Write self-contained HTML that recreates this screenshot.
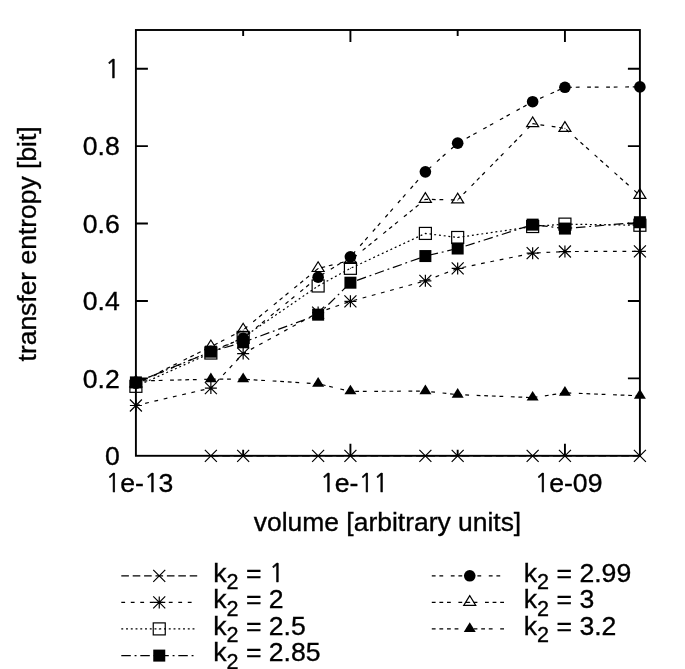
<!DOCTYPE html>
<html lang="en"><head><meta charset="utf-8"><title>transfer entropy vs volume</title>
<style>
html,body{margin:0;padding:0;background:#fff}
body{width:685px;height:669px;overflow:hidden}
svg{display:block}
.fl{fill:#000;stroke:none}
</style></head><body>
<svg width="685" height="669" viewBox="0 0 685 669">
<rect width="685" height="669" fill="#fff"/>
<g fill="none" stroke="#000" stroke-width="1.2">
<polyline points="210.87,455.8 243.16,455.8 318.13,455.8 350.42,455.8 425.38,455.8 457.67,455.8 532.64,455.8 564.93,455.8 639.9,455.8" stroke-dasharray="7.6 3.8"/>
<g><path d="M204.87 449.8L216.87 461.8M204.87 461.8L216.87 449.8"/><path d="M237.16 449.8L249.16 461.8M237.16 461.8L249.16 449.8"/><path d="M312.13 449.8L324.13 461.8M312.13 461.8L324.13 449.8"/><path d="M344.42 449.8L356.42 461.8M344.42 461.8L356.42 449.8"/><path d="M419.38 449.8L431.38 461.8M419.38 461.8L431.38 449.8"/><path d="M451.67 449.8L463.67 461.8M451.67 461.8L463.67 449.8"/><path d="M526.64 449.8L538.64 461.8M526.64 461.8L538.64 449.8"/><path d="M558.93 449.8L570.93 461.8M558.93 461.8L570.93 449.8"/><path d="M633.9 449.8L645.9 461.8M633.9 461.8L645.9 449.8"/></g>
<polyline points="135.9,405.48 210.87,388.06 243.16,353.61 318.13,312.58 350.42,301.35 425.38,280.83 457.67,268.45 532.64,253.16 564.93,251.53 639.9,251.3" stroke-dasharray="3.8 5.7"/>
<g><path d="M129.9 399.48L141.9 411.48M129.9 411.48L141.9 399.48M129.9 405.48H141.9M135.9 399.48V411.48"/><path d="M204.87 382.06L216.87 394.06M204.87 394.06L216.87 382.06M204.87 388.06H216.87M210.87 382.06V394.06"/><path d="M237.16 347.61L249.16 359.61M237.16 359.61L249.16 347.61M237.16 353.61H249.16M243.16 347.61V359.61"/><path d="M312.13 306.58L324.13 318.58M312.13 318.58L324.13 306.58M312.13 312.58H324.13M318.13 306.58V318.58"/><path d="M344.42 295.35L356.42 307.35M344.42 307.35L356.42 295.35M344.42 301.35H356.42M350.42 295.35V307.35"/><path d="M419.38 274.83L431.38 286.83M419.38 286.83L431.38 274.83M419.38 280.83H431.38M425.38 274.83V286.83"/><path d="M451.67 262.45L463.67 274.45M451.67 274.45L463.67 262.45M451.67 268.45H463.67M457.67 262.45V274.45"/><path d="M526.64 247.16L538.64 259.16M526.64 259.16L538.64 247.16M526.64 253.16H538.64M532.64 247.16V259.16"/><path d="M558.93 245.53L570.93 257.53M558.93 257.53L570.93 245.53M558.93 251.53H570.93M564.93 245.53V257.53"/><path d="M633.9 245.3L645.9 257.3M633.9 257.3L645.9 245.3M633.9 251.3H645.9M639.9 245.3V257.3"/></g>
<polyline points="135.9,386.32 210.87,353.03 243.16,337.43 318.13,285.98 350.42,268.33 425.38,233.42 457.67,237.48 532.64,226.53 564.93,224.13 639.9,225.25" stroke-dasharray="1.9 2.85"/>
<g><rect x="129.9" y="380.32" width="12" height="12"/><circle cx="135.9" cy="386.32" r="0.5" class="fl"/><rect x="204.87" y="347.03" width="12" height="12"/><circle cx="210.87" cy="353.03" r="0.5" class="fl"/><rect x="237.16" y="331.43" width="12" height="12"/><circle cx="243.16" cy="337.43" r="0.5" class="fl"/><rect x="312.13" y="279.98" width="12" height="12"/><circle cx="318.13" cy="285.98" r="0.5" class="fl"/><rect x="344.42" y="262.33" width="12" height="12"/><circle cx="350.42" cy="268.33" r="0.5" class="fl"/><rect x="419.38" y="227.42" width="12" height="12"/><circle cx="425.38" cy="233.42" r="0.5" class="fl"/><rect x="451.67" y="231.48" width="12" height="12"/><circle cx="457.67" cy="237.48" r="0.5" class="fl"/><rect x="526.64" y="220.53" width="12" height="12"/><circle cx="532.64" cy="226.53" r="0.5" class="fl"/><rect x="558.93" y="218.13" width="12" height="12"/><circle cx="564.93" cy="224.13" r="0.5" class="fl"/><rect x="633.9" y="219.25" width="12" height="12"/><circle cx="639.9" cy="225.25" r="0.5" class="fl"/></g>
<polyline points="135.9,382.41 210.87,351.67 243.16,342.3 318.13,314.67 350.42,282.69 425.38,256.06 457.67,248.51 532.64,224.63 564.93,228.58 639.9,222.23" stroke-dasharray="9.5 3.8 1.9 3.8"/>
<g><rect x="129.9" y="376.41" width="12" height="12" class="fl"/><rect x="204.87" y="345.67" width="12" height="12" class="fl"/><rect x="237.16" y="336.3" width="12" height="12" class="fl"/><rect x="312.13" y="308.67" width="12" height="12" class="fl"/><rect x="344.42" y="276.69" width="12" height="12" class="fl"/><rect x="419.38" y="250.06" width="12" height="12" class="fl"/><rect x="451.67" y="242.51" width="12" height="12" class="fl"/><rect x="526.64" y="218.63" width="12" height="12" class="fl"/><rect x="558.93" y="222.58" width="12" height="12" class="fl"/><rect x="633.9" y="216.23" width="12" height="12" class="fl"/></g>
<polyline points="135.9,383.3 210.87,351.29 243.16,338.32 318.13,277.2 350.42,256.84 425.38,171.87 457.67,143.15 532.64,101.73 564.93,87.29 639.9,86.9" stroke-dasharray="3.8 3.8 3.8 7.6"/>
<g><circle cx="135.9" cy="383.3" r="5.82" class="fl"/><circle cx="210.87" cy="351.29" r="5.82" class="fl"/><circle cx="243.16" cy="338.32" r="5.82" class="fl"/><circle cx="318.13" cy="277.2" r="5.82" class="fl"/><circle cx="350.42" cy="256.84" r="5.82" class="fl"/><circle cx="425.38" cy="171.87" r="5.82" class="fl"/><circle cx="457.67" cy="143.15" r="5.82" class="fl"/><circle cx="532.64" cy="101.73" r="5.82" class="fl"/><circle cx="564.93" cy="87.29" r="5.82" class="fl"/><circle cx="639.9" cy="86.9" r="5.82" class="fl"/></g>
<polyline points="135.9,383.8 210.87,346.76 243.16,330 318.13,268.49 350.42,260.32 425.38,199.35 457.67,199.93 532.64,123.68 564.93,128.32 639.9,195.37" stroke-dasharray="3.8 3.8 3.8 3.8 3.8 7.6"/>
<g><path d="M135.9 377.08L129.9 386.8H141.9Z"/><circle cx="135.9" cy="383.8" r="0.5" class="fl"/><path d="M210.87 340.04L204.87 349.76H216.87Z"/><circle cx="210.87" cy="346.76" r="0.5" class="fl"/><path d="M243.16 323.28L237.16 333H249.16Z"/><circle cx="243.16" cy="330" r="0.5" class="fl"/><path d="M318.13 261.77L312.13 271.49H324.13Z"/><circle cx="318.13" cy="268.49" r="0.5" class="fl"/><path d="M350.42 253.6L344.42 263.32H356.42Z"/><circle cx="350.42" cy="260.32" r="0.5" class="fl"/><path d="M425.38 192.63L419.38 202.35H431.38Z"/><circle cx="425.38" cy="199.35" r="0.5" class="fl"/><path d="M457.67 193.21L451.67 202.93H463.67Z"/><circle cx="457.67" cy="199.93" r="0.5" class="fl"/><path d="M532.64 116.96L526.64 126.68H538.64Z"/><circle cx="532.64" cy="123.68" r="0.5" class="fl"/><path d="M564.93 121.6L558.93 131.32H570.93Z"/><circle cx="564.93" cy="128.32" r="0.5" class="fl"/><path d="M639.9 188.65L633.9 198.37H645.9Z"/><circle cx="639.9" cy="195.37" r="0.5" class="fl"/></g>
<polyline points="135.9,381.09 210.87,379.16 243.16,379.16 318.13,383.8 350.42,391.35 425.38,391.16 457.67,394.64 532.64,397.62 564.93,392.82 639.9,395.8" stroke-dasharray="3.8 3.8 3.8 3.8 3.8 3.8 3.8 7.6"/>
<g><path d="M135.9 374.37L129.9 384.09H141.9Z" class="fl"/><path d="M210.87 372.44L204.87 382.16H216.87Z" class="fl"/><path d="M243.16 372.44L237.16 382.16H249.16Z" class="fl"/><path d="M318.13 377.08L312.13 386.8H324.13Z" class="fl"/><path d="M350.42 384.63L344.42 394.35H356.42Z" class="fl"/><path d="M425.38 384.44L419.38 394.16H431.38Z" class="fl"/><path d="M457.67 387.92L451.67 397.64H463.67Z" class="fl"/><path d="M532.64 390.9L526.64 400.62H538.64Z" class="fl"/><path d="M564.93 386.1L558.93 395.82H570.93Z" class="fl"/><path d="M639.9 389.08L633.9 398.8H645.9Z" class="fl"/></g>
</g>
<g fill="none" stroke="#000" stroke-width="1.9">
<rect x="135.9" y="30.0" width="504" height="425.8"/>
<path d="M135.9 378.38h12M639.9 378.38h-12M135.9 300.96h12M639.9 300.96h-12M135.9 223.55h12M639.9 223.55h-12M135.9 146.13h12M639.9 146.13h-12M135.9 68.71h12M639.9 68.71h-12M243.16 455.8v-6M243.16 30.0v6M350.42 455.8v-12M350.42 30.0v12M457.67 455.8v-6M457.67 30.0v6M564.93 455.8v-12M564.93 30.0v12"/>
</g>
<g font-family="'Liberation Sans', Arial, Helvetica, sans-serif" font-size="26.6" fill="#000" stroke="#000" stroke-width="0.35">
<text x="105.01" y="465.1">0</text>
<text x="82.83" y="387.68">0.2</text>
<text x="82.83" y="310.26">0.4</text>
<text x="82.83" y="232.85">0.6</text>
<text x="82.83" y="155.43">0.8</text>
<text><tspan x="105.31" y="78.01" font-family="NanumGothic, 'Liberation Sans', sans-serif" font-size="24.4" stroke-width="0.55">1</tspan></text>
<text><tspan x="105.69" y="491.7" font-family="NanumGothic, 'Liberation Sans', sans-serif" font-size="24.4" stroke-width="0.55">1</tspan><tspan x="120.18" y="491.7">e-</tspan><tspan x="144.13" y="491.7" font-family="NanumGothic, 'Liberation Sans', sans-serif" font-size="24.4" stroke-width="0.55">1</tspan><tspan x="158.62" y="491.7">3</tspan></text>
<text><tspan x="320.21" y="491.7" font-family="NanumGothic, 'Liberation Sans', sans-serif" font-size="24.4" stroke-width="0.55">1</tspan><tspan x="334.7" y="491.7">e-</tspan><tspan x="358.64" y="491.7" font-family="NanumGothic, 'Liberation Sans', sans-serif" font-size="24.4" stroke-width="0.55">1</tspan><tspan x="373.43" y="491.7" font-family="NanumGothic, 'Liberation Sans', sans-serif" font-size="24.4" stroke-width="0.55">1</tspan></text>
<text><tspan x="534.72" y="491.7" font-family="NanumGothic, 'Liberation Sans', sans-serif" font-size="24.4" stroke-width="0.55">1</tspan><tspan x="549.21" y="491.7">e-09</tspan></text>
<text x="387.5" y="531" font-size="26.45" text-anchor="middle">volume [arbitrary units]</text>
<text transform="translate(35.6,243.9) rotate(-90)" font-size="26.45" text-anchor="middle">transfer entropy [bit]</text>
<text><tspan x="213.2" y="581.6">k</tspan><tspan x="226.5" y="589.2" font-size="21.6">2</tspan><tspan x="238.51" y="581.6"> = </tspan><tspan x="269.13" y="581.6" font-family="NanumGothic, 'Liberation Sans', sans-serif" font-size="24.4" stroke-width="0.55">1</tspan></text>
<text><tspan x="213.2" y="608.2">k</tspan><tspan x="226.5" y="615.8" font-size="21.6">2</tspan><tspan x="238.51" y="608.2"> = 2</tspan></text>
<text><tspan x="213.2" y="634.7">k</tspan><tspan x="226.5" y="642.3" font-size="21.6">2</tspan><tspan x="238.51" y="634.7"> = 2.5</tspan></text>
<text><tspan x="213.2" y="661.4">k</tspan><tspan x="226.5" y="669" font-size="21.6">2</tspan><tspan x="238.51" y="661.4"> = 2.85</tspan></text>
<text><tspan x="523.8" y="581.6">k</tspan><tspan x="537.1" y="589.2" font-size="21.6">2</tspan><tspan x="549.11" y="581.6"> = 2.99</tspan></text>
<text><tspan x="523.8" y="608.2">k</tspan><tspan x="537.1" y="615.8" font-size="21.6">2</tspan><tspan x="549.11" y="608.2"> = 3</tspan></text>
<text><tspan x="523.8" y="634.7">k</tspan><tspan x="537.1" y="642.3" font-size="21.6">2</tspan><tspan x="549.11" y="634.7"> = 3.2</tspan></text>
</g>
<g fill="none" stroke="#000" stroke-width="1.2">
<path d="M121.3 575.8H197.2" stroke-dasharray="7.6 3.8"/>
<path d="M153.25 569.8L165.25 581.8M153.25 581.8L165.25 569.8"/>
<path d="M121.3 602.4H197.2" stroke-dasharray="3.8 5.7"/>
<path d="M153.25 596.4L165.25 608.4M153.25 608.4L165.25 596.4M153.25 602.4H165.25M159.25 596.4V608.4"/>
<path d="M121.3 628.9H197.2" stroke-dasharray="1.9 2.85"/>
<rect x="153.25" y="622.9" width="12" height="12"/><circle cx="159.25" cy="628.9" r="0.5" class="fl"/>
<path d="M121.3 655.6H197.2" stroke-dasharray="9.5 3.8 1.9 3.8"/>
<rect x="153.25" y="649.6" width="12" height="12" class="fl"/>
<path d="M431.8 575.8H507.7" stroke-dasharray="3.8 3.8 3.8 7.6"/>
<circle cx="469.75" cy="575.8" r="5.82" class="fl"/>
<path d="M431.8 602.4H507.7" stroke-dasharray="3.8 3.8 3.8 3.8 3.8 7.6"/>
<path d="M469.75 595.68L463.75 605.4H475.75Z"/><circle cx="469.75" cy="602.4" r="0.5" class="fl"/>
<path d="M431.8 628.9H507.7" stroke-dasharray="3.8 3.8 3.8 3.8 3.8 3.8 3.8 7.6"/>
<path d="M469.75 622.18L463.75 631.9H475.75Z" class="fl"/>
</g>
</svg>
</body></html>
